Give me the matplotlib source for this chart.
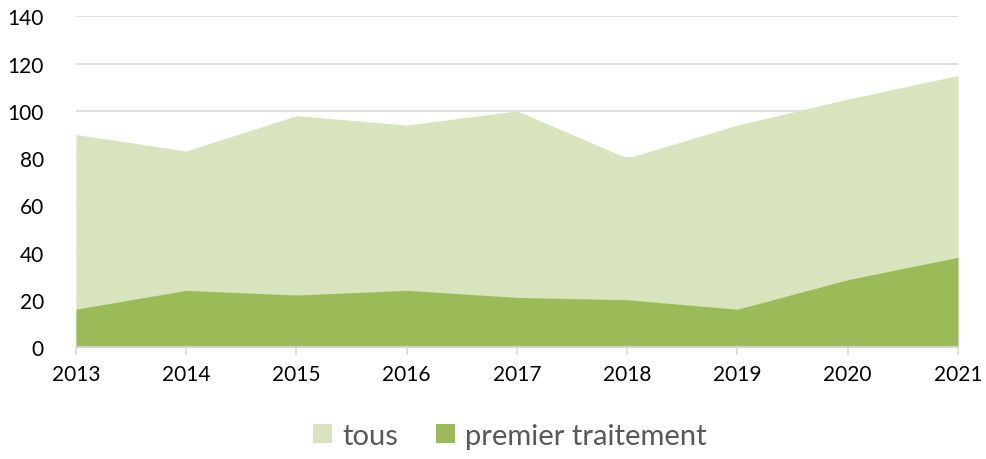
import numpy as np
import matplotlib.pyplot as plt

plt.rcParams['font.family'] = ['Lato', 'DejaVu Sans']

years = [2013, 2014, 2015, 2016, 2017, 2018, 2019, 2020, 2021]
tous = [90, 83, 98, 94, 100, 80, 94, 105, 115]
premier = [16, 24, 22, 24, 21, 20, 16, 28.5, 38]

fig = plt.figure(figsize=(9.86, 4.6), dpi=100)
ax = fig.add_axes([0.077, 0.2435, 0.8946, 0.7185])

ax.fill_between(years, 0, tous, color='#D7E4BD', linewidth=0, label='tous', zorder=2)
ax.fill_between(years, 0, premier, color='#9BBB59', linewidth=0, label='premier traitement', zorder=3)

ax.set_xlim(2013, 2021)
ax.set_ylim(0, 140)
ax.set_yticks(range(0, 141, 20))
ax.set_xticks(years)
ax.grid(axis='y', color='#D9D9D9', linewidth=1.2, zorder=1)
ax.set_axisbelow(True)

for s in ['top', 'right', 'left']:
    ax.spines[s].set_visible(False)
ax.spines['bottom'].set_color('#D9D9D9')
ax.spines['bottom'].set_linewidth(1.2)
ax.spines['bottom'].set_zorder(4)

ax.tick_params(axis='y', length=0, labelsize=15, pad=23, labelcolor='#000000')
ax.tick_params(axis='x', length=6, width=1.2, color='#D9D9D9', labelsize=15, pad=6, labelcolor='#000000')

leg = fig.legend(loc='lower center', bbox_to_anchor=(0.517, -0.035), ncol=2, frameon=False,
                 fontsize=21, handlelength=0.65, handleheight=0.65, columnspacing=1.3,
                 handletextpad=0.35)
for t in leg.get_texts():
    t.set_color('#595959')

fig.savefig('out.png', dpi=100)
